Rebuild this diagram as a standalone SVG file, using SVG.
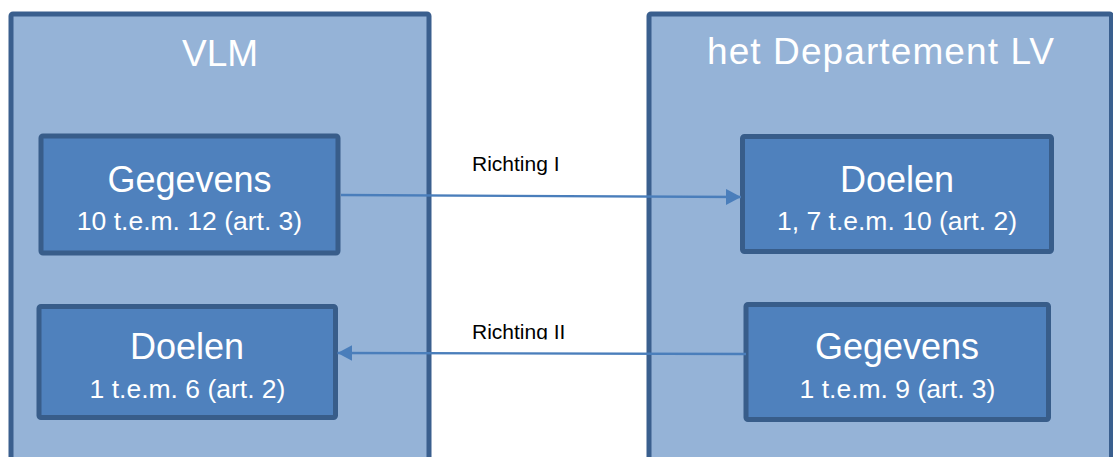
<svg xmlns="http://www.w3.org/2000/svg" width="1113" height="457" viewBox="0 0 1113 457">
  <style>
    .outer { fill: #95b3d7; stroke: #3a5f8e; stroke-width: 5; }
    .inner { fill: #4f81bd; stroke: #385d8a; stroke-width: 5; }
    .title { font-family: "Liberation Sans", Arial, sans-serif; font-size: 37px; fill: #ffffff; text-anchor: middle; }
    .head { font-family: "Liberation Sans", Arial, sans-serif; font-size: 36px; fill: #ffffff; text-anchor: middle; }
    .sub { font-family: "Liberation Sans", Arial, sans-serif; font-size: 26.5px; fill: #ffffff; text-anchor: middle; }
    .lbl { font-family: "Liberation Sans", Arial, sans-serif; font-size: 21px; fill: #000000; }
    .conn { fill: none; stroke: #4a7ebb; stroke-width: 2.4; }
  </style>
  <defs>
    <marker id="arrow" markerUnits="userSpaceOnUse" markerWidth="16" markerHeight="18" refX="15" refY="8" orient="auto">
      <path d="M0,0 L15,8 L0,16 Z" fill="#4a7ebb"/>
    </marker>
    <clipPath id="clipII">
      <rect x="400" y="300" width="300" height="39.5"/>
    </clipPath>
  </defs>
  <rect width="1113" height="457" fill="#ffffff"/>

  <g id="vlm">
    <rect class="outer" x="11" y="14" width="418" height="470" rx="2"/>
    <text class="title" x="220" y="66">VLM</text>
  </g>

  <g id="departement">
    <rect class="outer" x="649" y="14" width="462.5" height="470" rx="2"/>
    <text class="title" x="880.5" y="64" textLength="347" lengthAdjust="spacing">het Departement LV</text>
  </g>

  <g id="vlm-gegevens">
    <rect class="inner" x="41" y="136" width="297" height="117" rx="2"/>
    <text class="head" x="189.5" y="192">Gegevens</text>
    <text class="sub" x="189.5" y="230">10 t.e.m. 12 (art. 3)</text>
  </g>

  <g id="vlm-doelen">
    <rect class="inner" x="39" y="306.5" width="296.5" height="111" rx="2"/>
    <text class="head" x="187" y="359">Doelen</text>
    <text class="sub" x="187.5" y="398">1 t.e.m. 6 (art. 2)</text>
  </g>

  <g id="dep-doelen">
    <rect class="inner" x="742.5" y="136.5" width="309" height="115" rx="2"/>
    <text class="head" x="897" y="192">Doelen</text>
    <text class="sub" x="897" y="230">1, 7 t.e.m. 10 (art. 2)</text>
  </g>

  <g id="dep-gegevens">
    <rect class="inner" x="746" y="304.5" width="302.5" height="115" rx="2"/>
    <text class="head" x="897" y="359">Gegevens</text>
    <text class="sub" x="897.5" y="398">1 t.e.m. 9 (art. 3)</text>
  </g>

  <g id="connectors">
    <line class="conn" x1="341" y1="195" x2="741" y2="197" marker-end="url(#arrow)"/>
    <line class="conn" x1="746" y1="354" x2="337.5" y2="353" marker-end="url(#arrow)"/>
    <text class="lbl" x="472" y="171">Richting I</text>
    <text class="lbl" x="472" y="338.5" clip-path="url(#clipII)">Richting II</text>
  </g>
</svg>
